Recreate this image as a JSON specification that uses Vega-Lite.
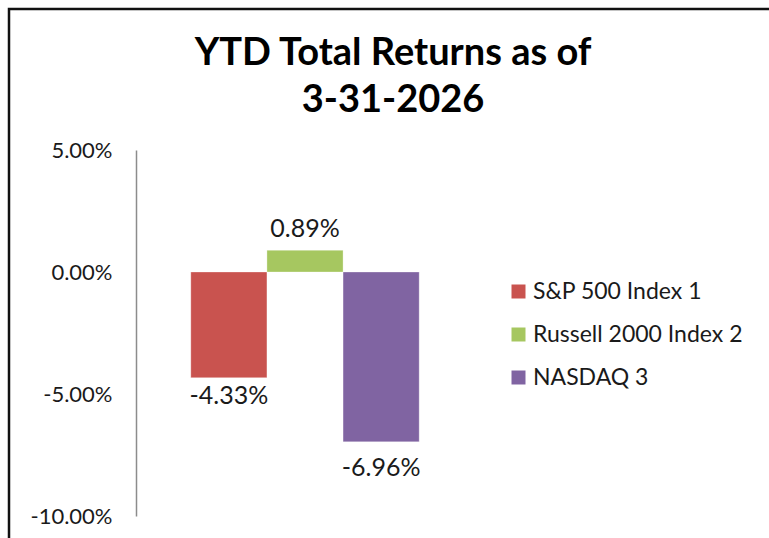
{
  "$schema": "https://vega.github.io/schema/vega-lite/v6.json",
  "usermeta": {"embedOptions": {"actions": false}},
  "autosize": "none",
  "width": 766,
  "height": 535,
  "padding": {"left": 9, "top": 9, "right": -6, "bottom": -6},
  "background": "white",
  "title": {
    "text": ["YTD Total Returns as of", "3-31-2026"],
    "font": "Lato",
    "fontSize": 38,
    "fontWeight": "bold",
    "color": "#000000",
    "anchor": "middle",
    "frame": "group",
    "dx": 1,
    "lineHeight": 47,
    "offset": -111
  },
  "data": {
    "values": [
      {"index": "S&P 500 Index 1", "ret": -0.0433},
      {"index": "Russell 2000 Index 2", "ret": 0.0089},
      {"index": "NASDAQ 3", "ret": -0.0696}
    ]
  },
  "encoding": {
    "x": {
      "field": "index",
      "type": "nominal",
      "sort": null,
      "axis": null,
      "scale": {"paddingInner": 0, "paddingOuter": 0.72, "range": [127, 465]}
    },
    "y": {
      "field": "ret",
      "type": "quantitative",
      "scale": {"domain": [-0.1, 0.05], "nice": false, "zero": false, "range": [507, 141]},
      "axis": {
        "values": [-0.1, -0.05, 0, 0.05],
        "format": ".2%",
        "title": null,
        "offset": -127,
        "grid": false,
        "ticks": false,
        "domainColor": "#8c8c8c",
        "domainWidth": 1.5,
        "labelPadding": 24,
        "labelFont": "Lato",
        "labelFontSize": 22,
        "labelColor": "#1a1a1a",
        "labelBound": false,
        "labelFlush": false,
        "labelOverlap": false
      }
    },
    "text": {"field": "ret", "type": "quantitative", "format": ".2%"}
  },
  "layer": [
    {
      "mark": {"type": "bar", "stroke": "white", "strokeWidth": 0.5, "strokeOpacity": 0.6},
      "encoding": {
        "text": null,
        "color": {
          "field": "index",
          "type": "nominal",
          "sort": null,
          "scale": {
            "domain": ["S&P 500 Index 1", "Russell 2000 Index 2", "NASDAQ 3"],
            "range": ["#C9534F", "#A6C760", "#8064A2"]
          },
          "legend": {
            "title": null,
            "orient": "none",
            "legendX": 498,
            "legendY": 271,
            "symbolType": "square",
            "symbolSize": 196,
            "symbolStrokeWidth": 0,
            "labelFont": "Lato",
            "labelFontSize": 23,
            "labelColor": "#1a1a1a",
            "labelOffset": 3,
            "rowPadding": 19,
            "labelLimit": 300
          }
        }
      }
    },
    {
      "transform": [{"filter": "datum.ret >= 0"}],
      "mark": {"type": "text", "baseline": "alphabetic", "dy": -13, "font": "Lato", "fontSize": 25, "color": "#1a1a1a"}
    },
    {
      "transform": [{"filter": "datum.index == 'S&P 500 Index 1'"}],
      "mark": {"type": "text", "baseline": "top", "dy": 6, "font": "Lato", "fontSize": 25, "color": "#1a1a1a"}
    },
    {
      "transform": [{"filter": "datum.index == 'NASDAQ 3'"}],
      "mark": {"type": "text", "baseline": "top", "dy": 14, "font": "Lato", "fontSize": 25, "color": "#1a1a1a"}
    }
  ],
  "config": {
    "view": {"stroke": "#111111", "strokeWidth": 2.5},
    "locale": {
      "number": {"decimal": ".", "thousands": ",", "grouping": [3], "currency": ["$", ""], "minus": "-"}
    }
  }
}
